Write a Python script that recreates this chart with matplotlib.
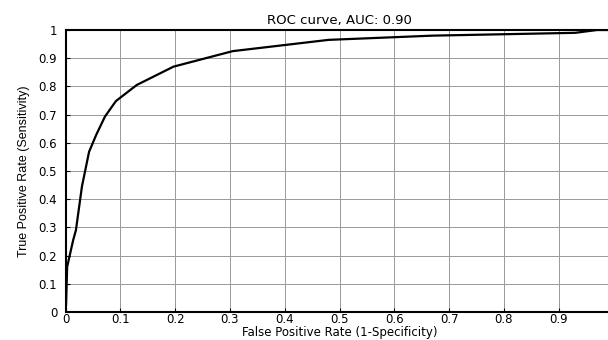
import matplotlib
matplotlib.use("Agg")
import matplotlib.pyplot as plt

plt.rcParams['font.family'] = ['DejaVu Sans']

# ROC curve points
fpr = [0.0, 0.001, 0.002, 0.003, 0.014, 0.019, 0.030, 0.043, 0.056, 0.072,
       0.092, 0.130, 0.197, 0.250, 0.305, 0.480, 0.670, 0.930, 0.970, 1.0]
tpr = [0.0, 0.025, 0.09, 0.16, 0.255, 0.29, 0.445, 0.568, 0.628, 0.693,
       0.748, 0.805, 0.870, 0.897, 0.925, 0.965, 0.980, 0.990, 1.0, 1.0]
auc = 0.90

xticks = [0, 0.1, 0.2, 0.3, 0.4, 0.5, 0.6, 0.7, 0.8, 0.9]
yticks = [0, 0.1, 0.2, 0.3, 0.4, 0.5, 0.6, 0.7, 0.8, 0.9, 1]

W, H = 608, 340
fig = plt.figure(figsize=(W / 100, H / 100), dpi=100)
# axes: x=0 at 65.5px, x=1 just past the right edge; y from 312 to 30
left, right, top, bottom = 65.5, 613.5, 30, 312
ax = fig.add_axes([left / W, 1 - bottom / H, (right - left) / W, (bottom - top) / H])

ax.plot(fpr, tpr, color='black', linewidth=1.6, zorder=3)
ax.set_xlim(0, 1)
ax.set_ylim(0, 1)
ax.set_xticks(xticks)
ax.set_yticks(yticks)
ax.set_xticklabels([f"{t:g}" for t in xticks])
ax.set_yticklabels([f"{t:g}" for t in yticks])
ax.grid(True, color='#999999', linewidth=0.7)
ax.tick_params(direction='in', length=3, labelsize=8.5, width=0.8)
ax.tick_params(axis='x', pad=1)
ax.tick_params(axis='y', pad=6)
for s in ['left', 'bottom', 'top']:
    ax.spines[s].set_linewidth(1.5)
ax.spines['right'].set_visible(False)

ax.set_title(f"ROC curve, AUC: {auc:.2f}", fontsize=9.5, pad=4)
ax.set_xlabel("False Positive Rate (1-Specificity)", fontsize=8.5, labelpad=0)
ax.set_ylabel("True Positive Rate (Sensitivity)", fontsize=9,
              family=['Liberation Sans', 'DejaVu Sans'], labelpad=6)

fig.savefig("out.png", dpi=100)
